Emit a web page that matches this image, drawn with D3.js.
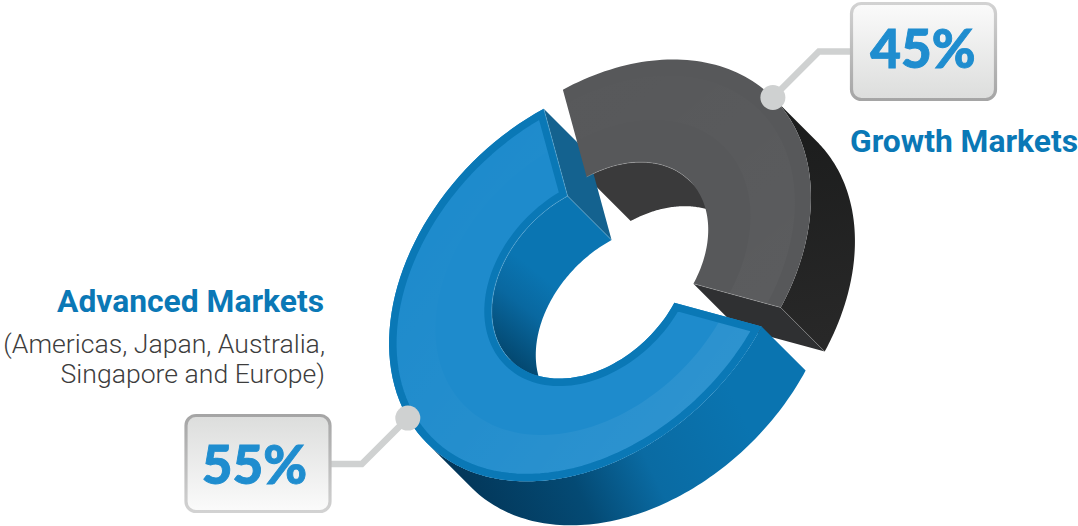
<!DOCTYPE html>
<html>
<head>
<meta charset="utf-8">
<script src="https://cdn.jsdelivr.net/npm/d3@7/dist/d3.min.js"></script>
<style>
  html, body { margin: 0; padding: 0; background: #fff; }
  svg { display: block; }
</style>
</head>
<body>
<svg id="chart" width="1078" height="526"></svg>
<script>
// Market split shown as an exploded, tilted 3D ring.
const segments = ["Growth Markets", "Advanced Markets"];
const shares = [45, 55];
const shareLabels = ["45%", "55%"];
const advancedNote = ["(Americas, Japan, Australia,", "Singapore and Europe)"];

const width = 1078, height = 526;
const center = { x: 600, y: 270.4 };
const majorRadius = 231, minorRadius = 166.6;   // top-face ellipse
const holeRatio = 0.49;
const explode = 13.5;
const depth = 44;                               // extrusion along the screen diagonal
const foreshorten = 0.3843;                     // angular compression of the tilted view

const svg = d3.select("#chart");
const defs = svg.append("defs");

function gradient(id, x1, y1, x2, y2, stops) {
  const g = defs.append("linearGradient").attr("id", id)
    .attr("gradientUnits", "userSpaceOnUse")
    .attr("x1", x1).attr("y1", y1).attr("x2", x2).attr("y2", y2);
  stops.forEach(([o, c, a]) => g.append("stop").attr("offset", o).attr("stop-color", c)
    .attr("stop-opacity", a === undefined ? 1 : a));
  return `url(#${id})`;
}

const blueOuterWall = gradient("blueOuterWall", 480, 510, 730, 390,
  [[0, "#03385b"], [0.35, "#044a74"], [0.62, "#0a6ba3"], [1, "#0a74b0"]]);
const blueInnerWall = gradient("blueInnerWall", 505, 360, 560, 290,
  [[0, "#03466d"], [0.6, "#0968a0"], [1, "#0a75b2"]]);
const blueSheen = gradient("blueSheen", 430, 230, 720, 450,
  [[0, "#fff", 0], [0.45, "#fff", 0.03], [1, "#fff", 0.08]]);
const greyOuterWall = gradient("greyOuterWall", 790, 130, 820, 340,
  [[0, "#1c1d1d"], [1, "#282828"]]);
const greySheen = gradient("greySheen", 600, 120, 760, 310,
  [[0, "#fff", 0.005], [1, "#fff", 0.025]]);
const boxFillDown = gradient("boxFillDown", 0, 3, 0, 100, [[0, "#fbfbfb"], [1, "#dcdddc"]]);
const boxEdgeDown = gradient("boxEdgeDown", 0, 3, 0, 100, [[0, "#d2d2d2"], [1, "#a5a5a5"]]);
const boxFillUp = gradient("boxFillUp", 0, 415, 0, 512, [[0, "#dcdddc"], [1, "#fbfbfb"]]);
const boxEdgeUp = gradient("boxEdgeUp", 0, 415, 0, 512, [[0, "#a5a5a5"], [1, "#d2d2d2"]]);

// Slice angles come straight from the shares; the grey slice is centred on the far end of the major axis.
const halfGrey = Math.PI * shares[0] / (shares[0] + shares[1]);
const arcs = d3.pie().sort(null)
  .startAngle(-halfGrey).endAngle(2 * Math.PI - halfGrey)(shares);

// Screen angle on the tilted ring for a given pie angle.
const warp = a => {
  const w = Math.atan2(foreshorten * Math.sin(a), Math.cos(a));
  return a > Math.PI ? w + 2 * Math.PI : w;
};

const majorScale = d3.scaleLinear().domain([0, 1]).range([0, majorRadius]);
const minorScale = d3.scaleLinear().domain([0, 1]).range([0, minorRadius]);
const S = Math.SQRT1_2;

function project(origin, phi, r, drop = 0) {
  const p = majorScale(r) * Math.cos(phi), q = minorScale(r) * Math.sin(phi);
  return [origin.x + (p + q) * S + drop, origin.y + (q - p) * S + drop];
}

const sweep = (a0, a1, n = 90) => d3.range(n + 1).map(i => a0 + (a1 - a0) * i / n);
const line = d3.line();
const closed = pts => line(pts) + "Z";

function ringFace(o, a0, a1, rOut, rIn) {
  return closed([
    ...sweep(a0, a1).map(a => project(o, a, rOut)),
    ...sweep(a1, a0).map(a => project(o, a, rIn))
  ]);
}
function wallFace(o, a0, a1, r) {
  return closed([
    ...sweep(a0, a1).map(a => project(o, a, r)),
    ...sweep(a1, a0).map(a => project(o, a, r, depth))
  ]);
}
function cutFace(o, a) {
  return closed([project(o, a, 1), project(o, a, holeRatio),
                 project(o, a, holeRatio, depth), project(o, a, 1, depth)]);
}

const [growth, advanced] = arcs.map(d => {
  const a0 = warp(d.startAngle), a1 = warp(d.endAngle), mid = (a0 + a1) / 2;
  const origin = {
    x: center.x + explode * S * (Math.cos(mid) + Math.sin(mid)),
    y: center.y + explode * S * (Math.sin(mid) - Math.cos(mid))
  };
  return { a0, a1, mid, origin };
});

const ring = svg.append("g");
const edgeGlint = sel => sel.attr("fill", "none").attr("stroke", "#fff")
  .attr("stroke-opacity", 0.35).attr("stroke-width", 0.6);
const arcEdge = (o, a0, a1, r) => line(sweep(a0, a1).map(a => project(o, a, r)));

// Back-to-front: grey hole wall, blue cut end, grey body, then the blue body over it.
ring.append("path").attr("d", wallFace(growth.origin, growth.a0, growth.mid, holeRatio)).attr("fill", "#3a3a3b");
ring.append("path").attr("d", cutFace(advanced.origin, advanced.a1)).attr("fill", "#14628f");

ring.append("path").attr("d", wallFace(growth.origin, growth.mid, growth.a1, 1)).attr("fill", greyOuterWall);
ring.append("path").attr("d", cutFace(growth.origin, growth.a1)).attr("fill", "#2f3032");
ring.append("path").attr("d", ringFace(growth.origin, growth.a0, growth.a1, 1, holeRatio)).attr("fill", "#57585a");
ring.append("path").attr("d", ringFace(growth.origin, growth.a0, growth.a1, 0.92, 0.7)).attr("fill", greySheen);
ring.append("path").attr("d", arcEdge(growth.origin, growth.a0, growth.mid, holeRatio)).call(edgeGlint);
ring.append("path").attr("d", line([project(growth.origin, growth.a1, holeRatio), project(growth.origin, growth.a1, 1), project(growth.origin, growth.a1, 1, depth)])).call(edgeGlint);

ring.append("path").attr("d", wallFace(advanced.origin, advanced.a0, advanced.mid, 1)).attr("fill", blueOuterWall);
ring.append("path").attr("d", wallFace(advanced.origin, advanced.mid, advanced.a1, holeRatio)).attr("fill", blueInnerWall);

const blueOutline = ringFace(advanced.origin, advanced.a0, advanced.a1, 1, holeRatio);
defs.append("clipPath").attr("id", "blueClip").append("path").attr("d", blueOutline);
ring.append("path").attr("d", blueOutline).attr("fill", "#1e8bcc");
ring.append("path").attr("d", ringFace(advanced.origin, advanced.a0, advanced.a1, 1, 0.77)).attr("fill", blueSheen);
ring.append("path").attr("d", blueOutline).attr("fill", "none").attr("stroke", "#0a78b6")
  .attr("stroke-width", 15).attr("clip-path", "url(#blueClip)");
ring.append("path").attr("d", arcEdge(advanced.origin, advanced.mid, advanced.a1, holeRatio)).call(edgeGlint);
ring.append("path").attr("d", line([project(advanced.origin, advanced.a1, 1), project(advanced.origin, advanced.a1, holeRatio), project(advanced.origin, advanced.a1, holeRatio, depth)])).call(edgeGlint);

// Callouts: dot on the rim, elbow leader, value box.
const callout = svg.append("g");
const leaderStyle = sel => sel.attr("fill", "none").attr("stroke", "#cfd1d1").attr("stroke-width", 6.5).attr("stroke-linejoin", "miter");

const growthDot = project(growth.origin, growth.mid, 1);
const advancedDot = project(advanced.origin, advanced.mid + 0.19, 1);

callout.append("path").call(leaderStyle).attr("d", line([
  growthDot, [growthDot[0] + 46, growthDot[1] - 46], [856, growthDot[1] - 46]]));
callout.append("path").call(leaderStyle).attr("d", line([
  advancedDot, [advancedDot[0] - 46, advancedDot[1] + 46], [326, advancedDot[1] + 46]]));

[growthDot, advancedDot].forEach(d =>
  callout.append("circle").attr("cx", d[0]).attr("cy", d[1]).attr("r", 12.5).attr("fill", "#cfd1d1"));

const boxes = [
  { x: 851.5, y: 3.5, fill: boxFillDown, edge: boxEdgeDown, tx: 923, ty: 68, label: shareLabels[0] },
  { x: 186, y: 415.5, fill: boxFillUp, edge: boxEdgeUp, tx: 254.5, ty: 484, label: shareLabels[1] }
];
boxes.forEach(b => {
  callout.append("rect").attr("x", b.x).attr("y", b.y).attr("width", 144).attr("height", 96)
    .attr("rx", 10).attr("fill", b.fill).attr("stroke", b.edge).attr("stroke-width", 3.2);
  callout.append("text").attr("x", b.tx).attr("y", b.ty).attr("text-anchor", "middle")
    .attr("font-family", "Lato").attr("font-weight", 900).attr("font-size", 53)
    .attr("fill", "#1f8dcf").attr("stroke", "#1f8dcf").attr("stroke-width", 0.9).text(b.label);
});

// Segment names.
const labels = svg.append("g").attr("font-family", "Roboto");
labels.append("text").attr("x", 850).attr("y", 152).attr("font-weight", 700).attr("font-size", 31.8)
  .attr("fill", "#0a78b6").text(segments[0]);
labels.append("text").attr("x", 324).attr("y", 312).attr("text-anchor", "end").attr("font-weight", 700)
  .attr("font-size", 31.8).attr("fill", "#0a78b6").text(segments[1]);
advancedNote.forEach((t, i) =>
  labels.append("text").attr("x", 325).attr("y", 353 + i * 30).attr("text-anchor", "end")
    .attr("font-weight", 300).attr("font-size", 26.6).attr("fill", "#3d3d3d").text(t));
</script>
</body>
</html>
